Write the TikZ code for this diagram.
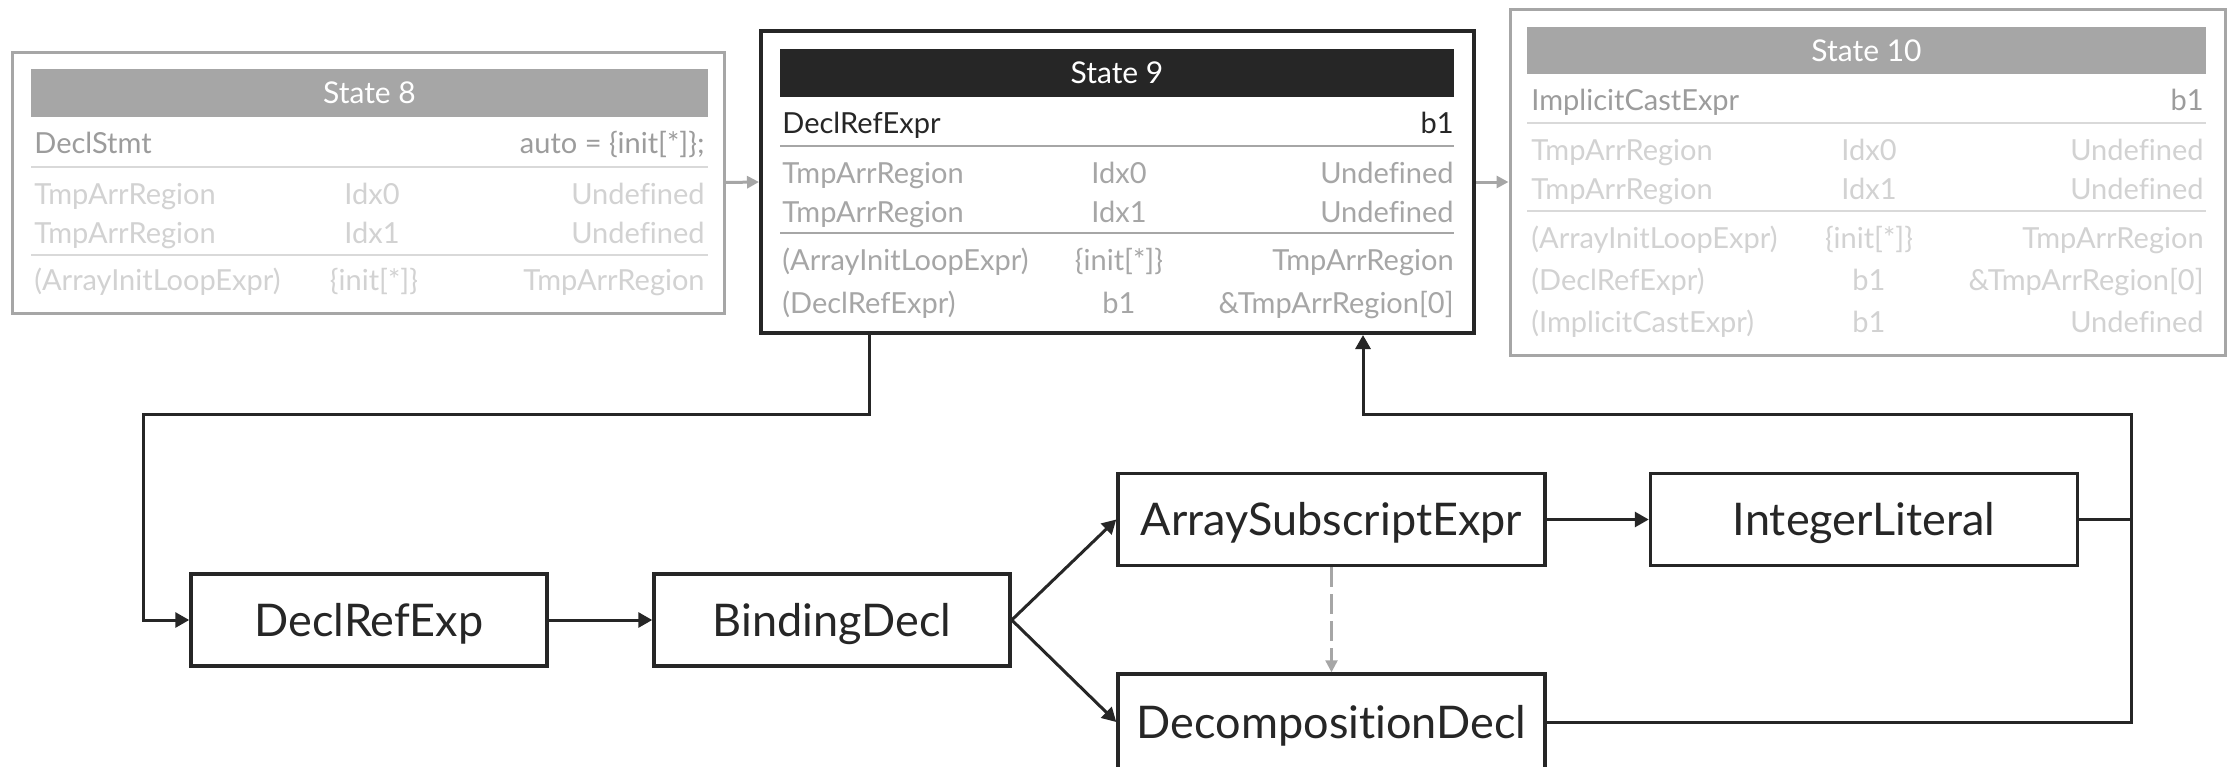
\documentclass[tikz,border=0pt]{standalone}
\usepackage{fontspec}
\setmainfont{Lato}[Ligatures=NoCommon]
\usetikzlibrary{arrows.meta,calc}
\definecolor{dk}{HTML}{262626}
\definecolor{gr}{HTML}{A6A6A6}
\definecolor{lg}{HTML}{D2D2D2}
\definecolor{mg}{HTML}{9C9C9C}
\definecolor{sepc}{HTML}{D9D9D9}
\begin{document}
\begin{tikzpicture}[x=0.5pt,y=-0.5pt,
  cell/.style={inner sep=0pt,text height=10.4pt,text depth=0pt,font=\fontsize{14.5}{17}\selectfont},
  hdrbox/.style={inner sep=0pt,text=white,font=\fontsize{15}{18}\selectfont,minimum height=24pt,text height=10.8pt,text depth=0pt},
  outer/.style={inner sep=0pt,line width=1.5pt},
  box/.style={draw=dk,line width=1.75pt,inner sep=0pt,minimum height=46pt,text=dk,
    text height=16.2pt,text depth=0pt,font=\fontsize{22.5}{26}\selectfont},
  conn/.style={draw=dk,line width=1.5pt,-{Triangle[length=7pt,width=7.5pt]}},
  line/.style={draw=dk,line width=1.5pt},
  garrow/.style={draw=gr,line width=1.5pt,-{Triangle[length=6pt,width=6pt]}},
  dasharrow/.style={draw=gr,line width=1.25pt,dash pattern=on 10pt off 3.5pt,-{Triangle[length=6pt,width=6pt]}}
]
\useasboundingbox (0,0) rectangle (2233,766);
\fill[white] (0,0) rectangle (2233,766);

% ---------- State 8 ----------
\node[outer,draw=gr,minimum width=356pt,minimum height=130.5pt] (s8) at (368,182.5) {};
\node[hdrbox,fill=gr,minimum width=338.5pt] (h8) at (369.5,93) {State 8};
\node[cell,anchor=west,text=mg] (a8) at (34,143) {DeclStmt};
\node[cell,anchor=east,text=mg] (b8) at (705,143) {auto = \{init[*]\};};
\draw[sepc,line width=1.25pt] (31,167) -- (708,167);
\node[cell,anchor=west,text=lg] (c8a) at (34,194) {TmpArrRegion};
\node[cell,text=lg] (c8b) at (372,194) {Idx0};
\node[cell,anchor=east,text=lg] (c8c) at (705,194) {Undefined};
\node[cell,anchor=west,text=lg] (d8a) at (34,233) {TmpArrRegion};
\node[cell,text=lg] (d8b) at (372,233) {Idx1};
\node[cell,anchor=east,text=lg] (d8c) at (705,233) {Undefined};
\draw[sepc,line width=1.25pt] (31,255) -- (708,255);
\node[cell,anchor=west,text=lg] (e8a) at (34,280) {(ArrayInitLoopExpr)};
\node[cell,text=lg] (e8b) at (374,280) {\{init[*]\}};
\node[cell,anchor=east,text=lg] (e8c) at (705,280) {TmpArrRegion};

% ---------- State 9 ----------
\node[outer,draw=dk,line width=2pt,minimum width=356.5pt,minimum height=151pt] (s9) at (1117.5,182) {};
\node[hdrbox,fill=dk,minimum width=337pt] (h9) at (1117,72.5) {State 9};
\node[cell,anchor=west,text=dk] (a9) at (782,123) {DeclRefExpr};
\node[cell,anchor=east,text=dk] (b9) at (1454,123) {b1};
\draw[gr,line width=1.25pt] (780,146) -- (1454,146);
\node[cell,anchor=west,text=gr] (c9a) at (782,173) {TmpArrRegion};
\node[cell,text=gr] (c9b) at (1119,173) {Idx0};
\node[cell,anchor=east,text=gr] (c9c) at (1454,173) {Undefined};
\node[cell,anchor=west,text=gr] (d9a) at (782,212) {TmpArrRegion};
\node[cell,text=gr] (d9b) at (1119,212) {Idx1};
\node[cell,anchor=east,text=gr] (d9c) at (1454,212) {Undefined};
\draw[gr,line width=1.25pt] (780,233) -- (1454,233);
\node[cell,anchor=west,text=gr] (e9a) at (782,260) {(ArrayInitLoopExpr)};
\node[cell,text=gr] (e9b) at (1119,260) {\{init[*]\}};
\node[cell,anchor=east,text=gr] (e9c) at (1454,260) {TmpArrRegion};
\node[cell,anchor=west,text=gr] (f9a) at (782,303) {(DeclRefExpr)};
\node[cell,text=gr] (f9b) at (1119,303) {b1};
\node[cell,anchor=east,text=gr] (f9c) at (1454,303) {\&TmpArrRegion[0]};

% ---------- State 10 ----------
\node[outer,draw=gr,minimum width=357.5pt,minimum height=173pt] (s10) at (1867.5,182) {};
\node[hdrbox,fill=gr,minimum width=339.5pt,minimum height=23.5pt] (h10) at (1866.5,50.5) {State 10};
\node[cell,anchor=west,text=mg] (a10) at (1531,100) {ImplicitCastExpr};
\node[cell,anchor=east,text=mg] (b10) at (2204,100) {b1};
\draw[sepc,line width=1.25pt] (1527,123) -- (2206,123);
\node[cell,anchor=west,text=lg] (c10a) at (1531,150) {TmpArrRegion};
\node[cell,text=lg] (c10b) at (1869,150) {Idx0};
\node[cell,anchor=east,text=lg] (c10c) at (2204,150) {Undefined};
\node[cell,anchor=west,text=lg] (d10a) at (1531,189) {TmpArrRegion};
\node[cell,text=lg] (d10b) at (1869,189) {Idx1};
\node[cell,anchor=east,text=lg] (d10c) at (2204,189) {Undefined};
\draw[sepc,line width=1.25pt] (1527,211) -- (2206,211);
\node[cell,anchor=west,text=lg] (e10a) at (1531,238) {(ArrayInitLoopExpr)};
\node[cell,text=lg] (e10b) at (1869,238) {\{init[*]\}};
\node[cell,anchor=east,text=lg] (e10c) at (2204,238) {TmpArrRegion};
\node[cell,anchor=west,text=lg] (f10a) at (1531,280) {(DeclRefExpr)};
\node[cell,text=lg] (f10b) at (1869,280) {b1};
\node[cell,anchor=east,text=lg] (f10c) at (2204,280) {\&TmpArrRegion[0]};
\node[cell,anchor=west,text=lg] (g10a) at (1531,322) {(ImplicitCastExpr)};
\node[cell,text=lg] (g10b) at (1869,322) {b1};
\node[cell,anchor=east,text=lg] (g10c) at (2204,322) {Undefined};

\draw[garrow] (s8.east) -- (s9.west);
\draw[garrow] (s9.east) -- (s10.west);

% ---------- Bottom graph ----------
\node[box,minimum width=178pt] (dre) at (369,620) {DeclRefExp};
\node[box,minimum width=178pt] (bd) at (832,620) {BindingDecl};
\node[box,minimum width=213.5pt] (ase) at (1331.5,519.5) {ArraySubscriptExpr};
\node[box,minimum width=213.5pt] (il) at (1864,519.5) {IntegerLiteral};
\node[box,minimum width=213.5pt,minimum height=48pt] (dd) at (1331.5,722) {DecompositionDecl};

\coordinate (k1) at (869,414);
\coordinate (k2) at (143,414);
\coordinate (k3) at (2131,414);
\coordinate (k4) at (1363,414);

\draw[conn] (s9.south -| k1) -- (k1) -- (k2) |- (dre.west);
\draw[conn] (dre.east) -- (bd.west);
\draw[conn] (bd.east) -- (ase.west);
\draw[conn] (bd.east) -- (dd.west);
\draw[conn] (ase.east) -- (il.west);
\draw[dasharrow] (ase.south) -- (dd.north);
\draw[line] (il.east) -- (il.east -| k3);
\draw[conn] (dd.east) -| (k3) -- (k4) -- (s9.south -| k4);
\end{tikzpicture}
\end{document}
